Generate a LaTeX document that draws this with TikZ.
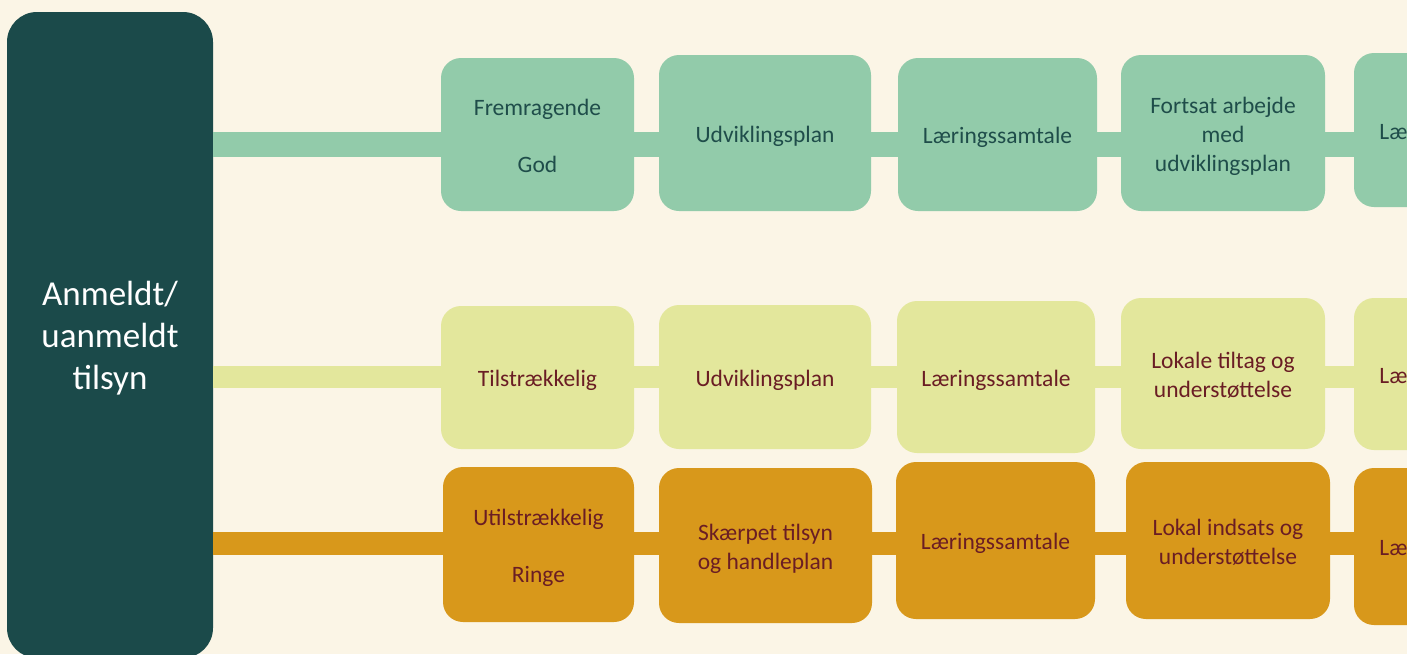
\documentclass[tikz,border=0pt]{standalone}
\usepackage{fontspec}
\setmainfont{Carlito}
\definecolor{bgc}{HTML}{FBF5E6}
\definecolor{teal}{HTML}{1B4A4A}
\definecolor{gfill}{HTML}{92CBAA}
\definecolor{yfill}{HTML}{E3E79C}
\definecolor{ofill}{HTML}{D8981B}
\definecolor{gtext}{HTML}{1F4D4A}
\definecolor{rtext}{HTML}{6A1D24}
\newcommand\lowtxt[2][3.5pt]{\raisebox{-#1}[\height][\depth]{\begin{tabular}{@{}c@{}}#2\end{tabular}}}
\begin{document}
\begin{tikzpicture}[x=1pt,y=-1pt,
  stagebox/.style={rectangle, rounded corners=20pt, inner sep=0pt, align=center,
    font=\fontsize{23.5}{29}\selectfont},
  gbox/.style={stagebox, fill=gfill, text=gtext},
  ybox/.style={stagebox, fill=yfill, text=rtext},
  obox/.style={stagebox, fill=ofill, text=rtext},
  gbar/.style={draw=gfill, line width=25pt},
  ybar/.style={draw=yfill, line width=22pt},
  obar/.style={draw=ofill, line width=23pt}]
\fill[bgc] (0,0) rectangle (1407,654);
\useasboundingbox (0,0) rectangle (1407,654);

% left box
\node[rectangle, rounded corners=30pt, fill=teal, text=white, inner sep=0pt,
  minimum width=206pt, minimum height=646pt, align=center,
  font=\fontsize{35}{42}\selectfont] (L) at (110,335) {\lowtxt[4pt]{Anmeldt/\\uanmeldt\\tilsyn}};

% row coordinates
\coordinate (gy) at (0,144);
\coordinate (yy) at (0,377);
\coordinate (oy) at (0,543);

% green row
\node[gbox, minimum width=193pt, minimum height=153pt] (g1) at (537.5,134.5) {\lowtxt{Fremragende\\[28pt]God}};
\node[gbox, minimum width=212pt, minimum height=156pt] (g2) at (765,133) {\lowtxt{Udviklingsplan}};
\node[gbox, minimum width=199pt, minimum height=153pt] (g3) at (997.5,134.5) {\lowtxt{Læringssamtale}};
\node[gbox, minimum width=204pt, minimum height=156pt] (g4) at (1223,133) {\lowtxt{Fortsat arbejde\\med\\udviklingsplan}};
\node[gbox, minimum width=200pt, minimum height=154pt] (g5) at (1454,130) {\lowtxt{Læringssamtale}};

% yellow row
\node[ybox, minimum width=193pt, minimum height=143pt] (y1) at (537.5,377.5) {\lowtxt{Tilstrækkelig}};
\node[ybox, minimum width=212pt, minimum height=144pt] (y2) at (765,377) {\lowtxt{Udviklingsplan}};
\node[ybox, minimum width=198pt, minimum height=152pt] (y3) at (996,377) {\lowtxt{Læringssamtale}};
\node[ybox, minimum width=204pt, minimum height=151pt] (y4) at (1223,373.5) {\lowtxt{Lokale tiltag og\\understøttelse}};
\node[ybox, minimum width=200pt, minimum height=152pt] (y5) at (1454,374) {\lowtxt{Læringssamtale}};

% orange row
\node[obox, minimum width=191pt, minimum height=155pt] (o1) at (538.5,544.5) {\lowtxt{Utilstrækkelig\\[28pt]Ringe}};
\node[obox, minimum width=213pt, minimum height=155pt] (o2) at (765.5,545.5) {\lowtxt{Skærpet tilsyn\\og handleplan}};
\node[obox, minimum width=199pt, minimum height=157pt] (o3) at (995.5,540.5) {\lowtxt{Læringssamtale}};
\node[obox, minimum width=204pt, minimum height=157pt] (o4) at (1228,540.5) {\lowtxt{Lokal indsats og\\understøttelse}};
\node[obox, minimum width=200pt, minimum height=157pt] (o5) at (1454,546.5) {\lowtxt{Læringssamtale}};

% connectors
\foreach \a/\b in {L/g1,g1/g2,g2/g3,g3/g4,g4/g5}
  \draw[gbar] (\a.east |- gy) -- (\b.west |- gy);
\foreach \a/\b in {L/y1,y1/y2,y2/y3,y3/y4,y4/y5}
  \draw[ybar] (\a.east |- yy) -- (\b.west |- yy);
\foreach \a/\b in {L/o1,o1/o2,o2/o3,o3/o4,o4/o5}
  \draw[obar] (\a.east |- oy) -- (\b.west |- oy);
\end{tikzpicture}
\end{document}
